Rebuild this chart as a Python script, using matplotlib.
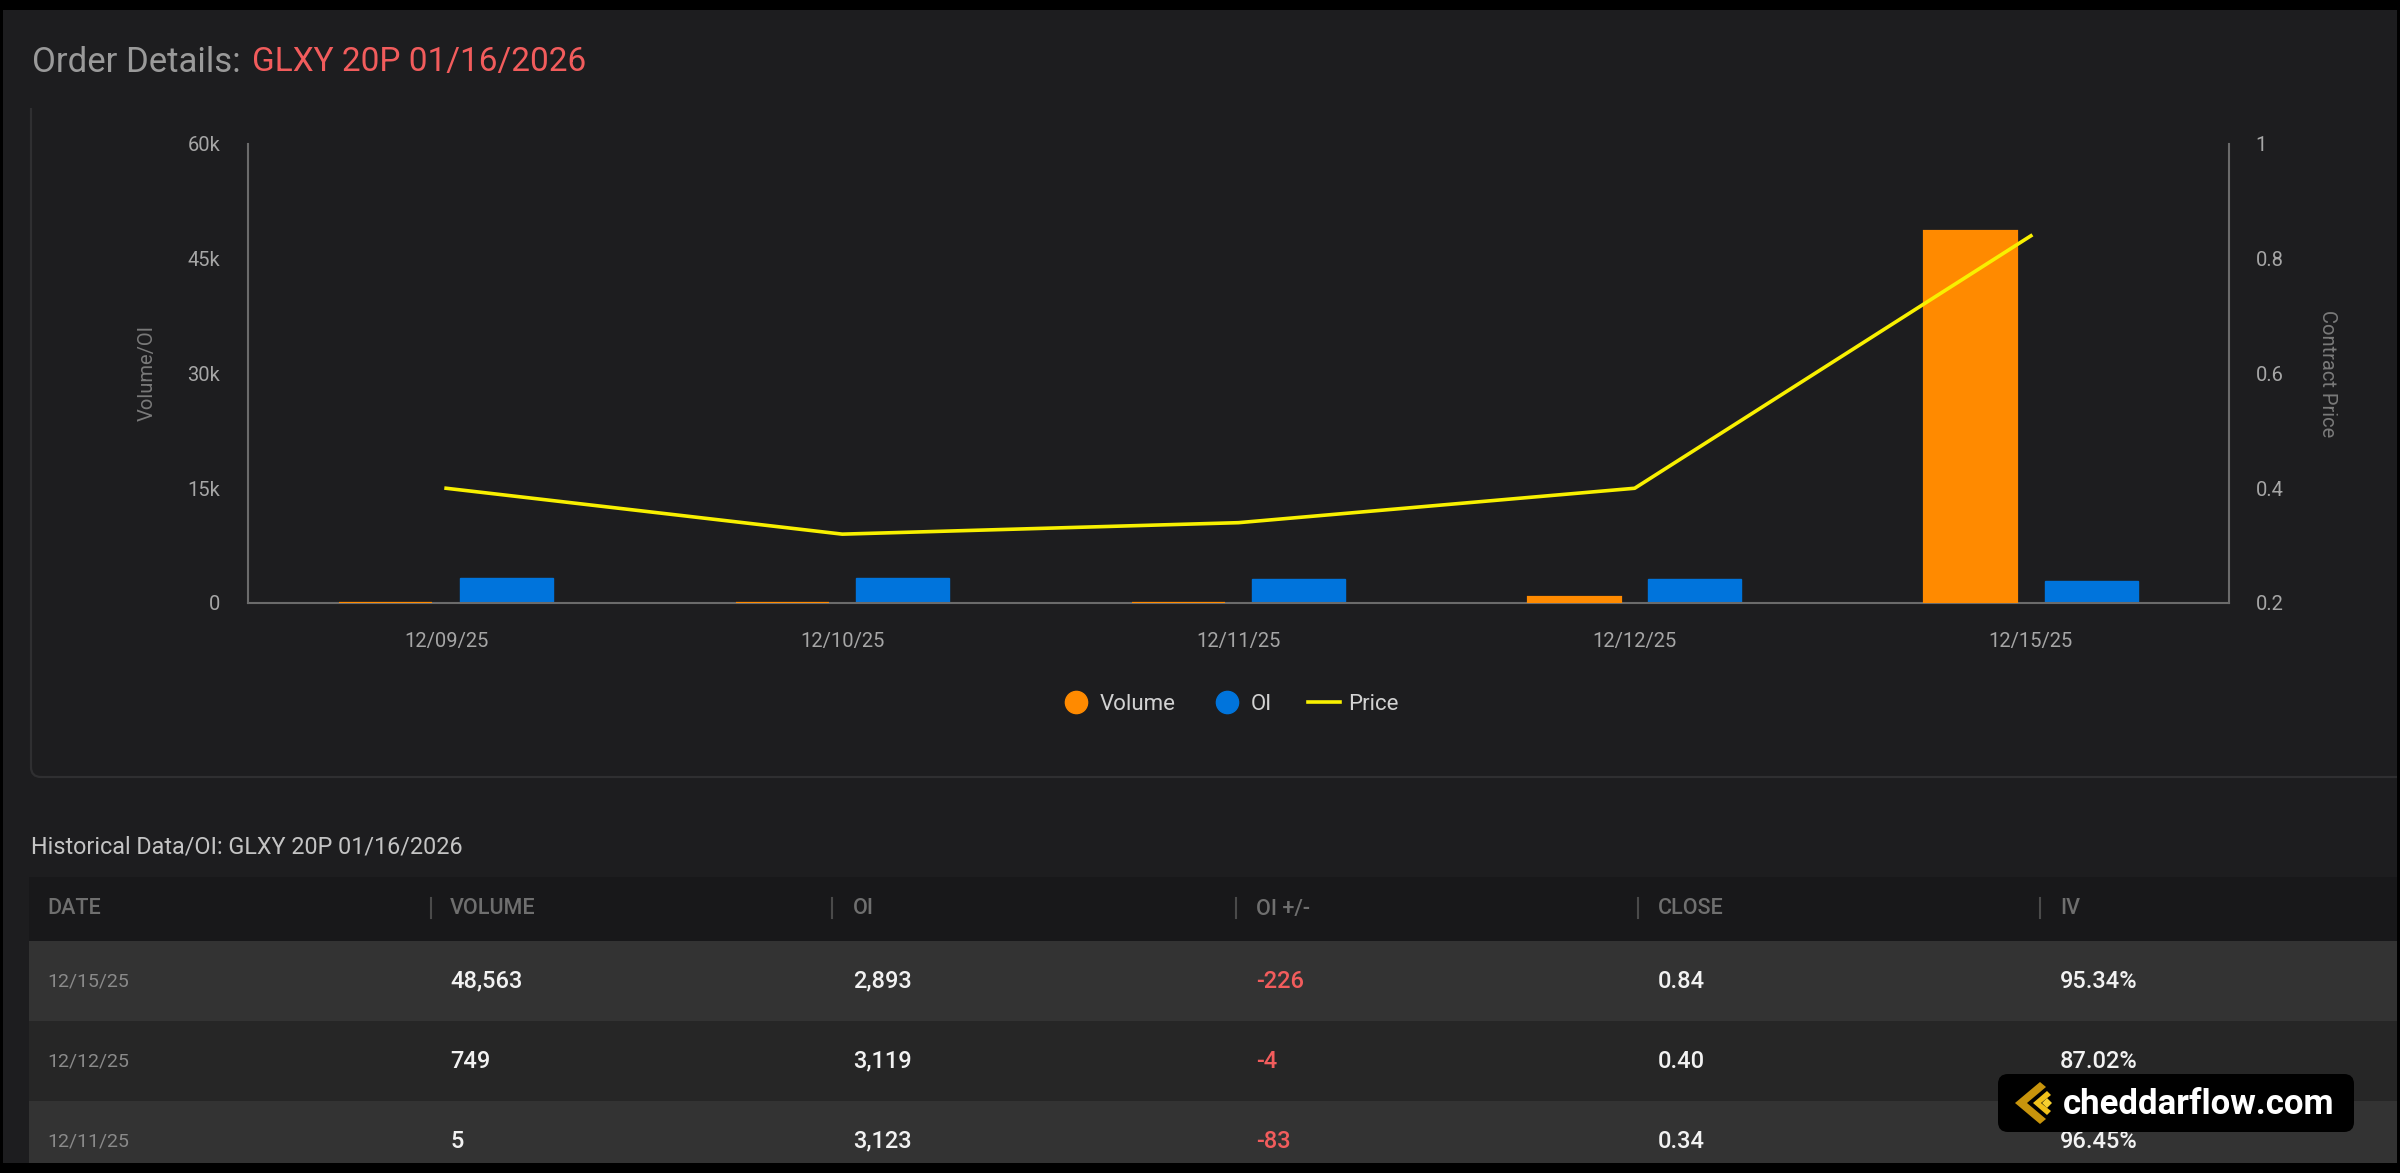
import matplotlib
matplotlib.use('Agg')
import matplotlib.pyplot as plt
from matplotlib.lines import Line2D
from matplotlib.patches import Rectangle, FancyBboxPatch, Polygon, PathPatch
from matplotlib.path import Path
from matplotlib.transforms import IdentityTransform
import numpy as np

# ---------------- data ----------------
dates = ['12/09/25', '12/10/25', '12/11/25', '12/12/25', '12/15/25']
volume = [10, 3, 5, 749, 48563]
oi = [3300, 3206, 3123, 3119, 2893]
price = [0.40, 0.32, 0.34, 0.40, 0.84]

vol_ticks = [0, 15000, 30000, 45000, 60000]
vol_tick_labels = ['0', '15k', '30k', '45k', '60k']
price_ticks = [0.2, 0.4, 0.6, 0.8, 1.0]
price_tick_labels = ['0.2', '0.4', '0.6', '0.8', '1']

table_columns = ['DATE', 'VOLUME', 'OI', 'OI +/-', 'CLOSE', 'IV']
table_dates = ['12/15/25', '12/12/25', '12/11/25']
table_volume = ['48,563', '749', '5']
table_oi = ['2,893', '3,119', '3,123']
table_oi_change = ['-226', '-4', '-83']
table_close = ['0.84', '0.40', '0.34']
table_iv = ['95.34%', '87.02%', '96.45%']

# ---------------- style ----------------
plt.rcParams['font.family'] = ['Roboto', 'DejaVu Sans']
W, H = 2400, 1173
BG = '#1d1d1f'
ORANGE = '#ff8a00'
BLUE = '#0074dc'
YELLOW = '#f8f000'
RED = '#f25c5c'
AXIS = '#6b6b6b'


def fx(x):
    return x / W


def fy(y):
    return 1 - y / H


fig = plt.figure(figsize=(24, 11.73), dpi=100, facecolor='black')

# page background (black frame around)
fig.add_artist(Rectangle((fx(3), fy(1163)), fx(2397) - fx(3), fy(10) - fy(1163),
                         transform=fig.transFigure, facecolor=BG, edgecolor='none', zorder=-10))

# chart panel border (left + bottom with rounded corner)
r = 10
verts = [(31, H - 108), (31, H - (777 - r)), (31, H - 777), (31 + r, H - 777), (2397, H - 777)]
codes = [Path.MOVETO, Path.LINETO, Path.CURVE3, Path.CURVE3, Path.LINETO]
fig.add_artist(PathPatch(Path(verts, codes), transform=IdentityTransform(), fill=False,
                         edgecolor='#2f2f31', lw=1.6, zorder=-5))

# title
t1 = fig.text(fx(32), fy(62), 'Order Details:', color='#9a9a9a', fontsize=25, va='center', ha='left')
fig.canvas.draw()
bb = t1.get_window_extent()
fig.text((bb.x1 + 11) / W, fy(62), 'GLXY 20P 01/16/2026', color=RED, fontsize=24,
         va='center', ha='left')

# ---------------- chart ----------------
ax = fig.add_axes([fx(248), fy(603), (2229 - 248) / W, (603 - 144) / H])
ax.set_facecolor('none')
x = np.arange(len(dates))
bw = 0.235
ax.bar(x - 0.152, volume, bw, color=ORANGE, edgecolor=ORANGE, lw=1.6, zorder=2.6)
ax.bar(x + 0.152, oi, bw, color=BLUE, edgecolor=BLUE, lw=1.0, zorder=2)
ax.set_xlim(-0.5, len(dates) - 0.5)
ax.set_ylim(0, 60000)
ax.set_yticks(vol_ticks)
ax.set_yticklabels(vol_tick_labels)
ax.set_xticks(x)
ax.set_xticklabels(dates)

ax2 = ax.twinx()
ax2.plot(x, price, color=YELLOW, lw=2.6, zorder=3)
ax2.set_ylim(0.2, 1.0)
ax2.set_yticks(price_ticks)
ax2.set_yticklabels(price_tick_labels)

for s in ['top', 'right']:
    ax.spines[s].set_visible(False)
for s in ['top', 'left', 'bottom']:
    ax2.spines[s].set_visible(False)
for sp in [ax.spines['left'], ax.spines['bottom'], ax2.spines['right']]:
    sp.set_color(AXIS)
    sp.set_linewidth(1.5)

ax.tick_params(axis='y', length=0, pad=20, labelsize=14.5, labelcolor='#a6a6a6')
ax.tick_params(axis='x', length=0, pad=21, labelsize=14.5, labelcolor='#a6a6a6')
ax2.tick_params(axis='y', length=0, pad=19, labelsize=14.5, labelcolor='#a6a6a6')

ax.set_ylabel('Volume/OI', color='#7a7a7a', fontsize=14.5)
ax.yaxis.label.set_va('center')
ax.yaxis.set_label_coords((147 - 248) / (2229 - 248), 0.5)
ax2.set_ylabel('Contract Price', color='#7a7a7a', fontsize=14.5, rotation=270)
ax2.yaxis.label.set_va('center')
ax2.yaxis.set_label_coords((2327 - 248) / (2229 - 248), 0.5)

handles = [
    Line2D([], [], marker='o', ls='none', markersize=16, markerfacecolor=ORANGE, markeredgecolor=ORANGE),
    Line2D([], [], marker='o', ls='none', markersize=16, markerfacecolor=BLUE, markeredgecolor=BLUE),
    Line2D([], [], color=YELLOW, lw=2.6),
]
fig.legend(handles, ['Volume', 'OI', 'Price'], loc='center', bbox_to_anchor=(fx(1229), fy(704)),
           ncol=3, frameon=False, fontsize=16, labelcolor='#d2d2d2', handlelength=1.44,
           handletextpad=0.36, columnspacing=1.6, borderpad=0)

# ---------------- table ----------------
fig.text(fx(31), fy(847), 'Historical Data/OI: GLXY 20P 01/16/2026', color='#c4c4c4',
         fontsize=16.8, va='center', ha='left')

fig.add_artist(Rectangle((fx(29), fy(941)), fx(2397) - fx(29), fy(877) - fy(941),
                         transform=fig.transFigure, facecolor='#18181a', edgecolor='none', zorder=-4))
row_tops = [941, 1021, 1101]
row_bottoms = [1021, 1101, 1163]
row_colors = ['#333333', '#262626', '#333333']
for t, b, c in zip(row_tops, row_bottoms, row_colors):
    fig.add_artist(Rectangle((fx(29), fy(b)), fx(2397) - fx(29), fy(t) - fy(b),
                             transform=fig.transFigure, facecolor=c, edgecolor='none', zorder=-4))

col_x = [47, 450, 853, 1256, 1658, 2060]
sep_x = [431, 832, 1236, 1638, 2040]
for cx, name in zip(col_x, table_columns):
    fig.text(fx(cx), fy(909), name, color='#6f6f6f', fontsize=15.5, fontweight='medium',
             va='center', ha='left')
for sx in sep_x:
    fig.add_artist(Line2D([fx(sx), fx(sx)], [fy(898), fy(918)], transform=fig.transFigure,
                          color='#4a4a4a', lw=1.5))

row_y = [981, 1061, 1141]
for i, yy in enumerate(row_y):
    fig.text(fx(col_x[0]), fy(yy), table_dates[i], color='#8a8a8a', fontsize=14, va='center')
    fig.text(fx(col_x[1]), fy(yy), table_volume[i], color='#f2f2f2', fontsize=17, va='center',
             fontweight='medium')
    fig.text(fx(col_x[2]), fy(yy), table_oi[i], color='#f2f2f2', fontsize=17, va='center',
             fontweight='medium')
    fig.text(fx(col_x[3]), fy(yy), table_oi_change[i], color=RED, fontsize=17, va='center',
             fontweight='medium')
    fig.text(fx(col_x[4]), fy(yy), table_close[i], color='#f2f2f2', fontsize=17, va='center',
             fontweight='medium')
    fig.text(fx(col_x[5]), fy(yy), table_iv[i], color='#f2f2f2', fontsize=17, va='center',
             fontweight='medium')

# ---------------- watermark badge ----------------
fig.add_artist(FancyBboxPatch((1998, H - 1132), 2354 - 1998, 1132 - 1074,
                              boxstyle='round,pad=0,rounding_size=10', transform=IdentityTransform(),
                              facecolor='black', edgecolor='none', zorder=10))


def poly(pts, color):
    fig.add_artist(Polygon([(px, H - py) for px, py in pts], closed=True, transform=IdentityTransform(),
                           facecolor=color, edgecolor='none', zorder=11))


poly([(2040, 1082), (2015, 1103), (2040, 1124), (2046, 1119), (2027, 1103), (2046, 1087)], '#c8940c')
poly([(2047, 1091), (2033, 1103), (2047, 1115), (2051, 1111), (2041, 1103), (2051, 1095)], '#f0c01a')
poly([(2047, 1098), (2052, 1103), (2047, 1108), (2042, 1103)], '#f6d030')
fig.text(fx(2063), fy(1104), 'cheddarflow.com', color='white', fontsize=25, fontweight='bold',
         va='center', ha='left', zorder=12)

fig.savefig('out.png', dpi=100, facecolor='black')
